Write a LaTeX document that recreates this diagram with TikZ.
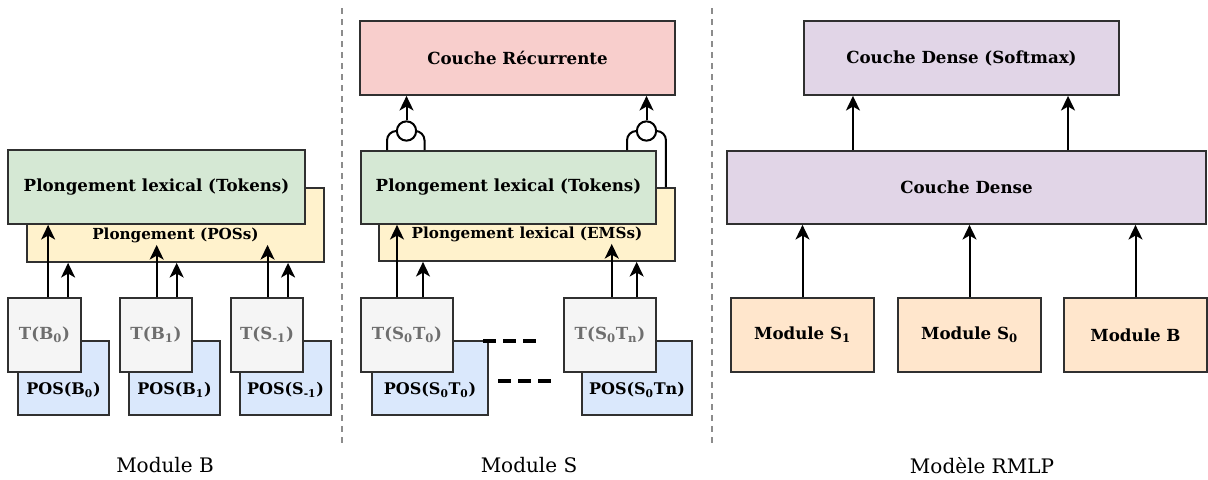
\documentclass[tikz,border=0pt]{standalone}
\usepackage{fontspec}
\setmainfont{DejaVu Serif}
\usepackage{tikz}
\usetikzlibrary{arrows.meta,calc}
\definecolor{tokgreen}{HTML}{D5E8D4}
\definecolor{embyellow}{HTML}{FFF2CC}
\definecolor{posblue}{HTML}{DAE8FC}
\definecolor{tokgray}{HTML}{F5F5F5}
\definecolor{tokfont}{HTML}{6E6E6E}
\definecolor{recred}{HTML}{F8CECC}
\definecolor{densepurple}{HTML}{E1D5E7}
\definecolor{modorange}{HTML}{FFE6CC}
\definecolor{boxline}{HTML}{303030}
\definecolor{sepgray}{HTML}{8C8C8C}
\tikzset{>/.tip={Stealth[length=11pt,width=10.5pt,inset=3pt]},
  wh/.style 2 args={minimum width=#1*0.75pt, minimum height=#2*0.75pt},
  blk/.style={draw=boxline, line width=1.3pt, inner sep=0pt, font=\bfseries\fontsize{12.5}{15}\selectfont},
  emblbl/.style 2 args={label={[name=#1, anchor=center, yshift=20.25pt, inner sep=1pt, font=\bfseries\fontsize{11.4}{14}\selectfont]south:#2}},
  poslbl/.style={label={[anchor=center, yshift=19.5pt, font=\bfseries\fontsize{12}{14}\selectfont]south:#1}},
  wire/.style={->, line width=1.5pt},
  leg/.style={line width=1.5pt, rounded corners=7pt},
  gate/.style={circle, draw, fill=white, line width=1.5pt, minimum size=14.5pt, inner sep=0pt},
  gap/.style={line width=2.4pt, dash pattern=on 9.75pt off 5.25pt},
  sep/.style={draw=sepgray, line width=1.1pt, dash pattern=on 4.5pt off 3.75pt},
  caption/.style={font=\fontsize{15}{18}\selectfont}}

\begin{document}
\begin{tikzpicture}[x=0.75pt,y=-0.75pt]
\useasboundingbox (0,0) rectangle (1208,479);

\node[blk, fill=embyellow, wh={297}{74}, emblbl={lblB}{Plongement (POSs)}] (embB) at (175.5,225) {};
\node[blk, fill=tokgreen, wh={297}{74}] (tokB) at (156.5,187) {Plongement lexical (Tokens)};

\node[blk, fill=posblue, wh={91}{74}, poslbl={POS(B\textsubscript{0})}] (PB0) at (63.5,378) {};
\node[blk, fill=tokgray, text=tokfont, wh={73}{74}] (TB0) at (44.5,335) {T(B\textsubscript{0})};
\node[blk, fill=posblue, wh={91}{74}, poslbl={POS(B\textsubscript{1})}] (PB1) at (174.5,378) {};
\node[blk, fill=tokgray, text=tokfont, wh={72}{74}] (TB1) at (156,335) {T(B\textsubscript{1})};
\node[blk, fill=posblue, wh={91}{74}, poslbl={POS(S\textsubscript{-1})}] (PS1) at (285.5,378) {};
\node[blk, fill=tokgray, text=tokfont, wh={72}{74}] (TS1) at (267,335) {T(S\textsubscript{-1})};

\draw[wire] ([xshift=2.7pt]TB0.north) -- ([xshift=2.7pt]TB0.north |- tokB.south);
\draw[wire] ([xshift=17.7pt]TB0.north) -- ([xshift=17.7pt]TB0.north |- embB.south);
\draw[wire] ([xshift=0.5pt]TB1.north) -- ([xshift=0.5pt]TB1.north |- lblB.south);
\draw[wire] ([xshift=15.5pt]TB1.north) -- ([xshift=15.5pt]TB1.north |- embB.south);
\draw[wire] ([xshift=0.4pt]TS1.north) -- ([xshift=0.4pt]TS1.north |- lblB.south);
\draw[wire] ([xshift=15.8pt]TS1.north) -- ([xshift=15.8pt]TS1.north |- embB.south);

\node[blk, fill=recred, wh={315}{74}] (recS) at (517.5,58) {Couche Récurrente};
\node[blk, fill=embyellow, wh={296}{73}, emblbl={lblS}{Plongement lexical (EMSs)}] (embS) at (527,224.5) {};
\node[blk, fill=tokgreen, wh={295}{73}] (tokS) at (508.5,187.5) {Plongement lexical (Tokens)};

\node[blk, fill=posblue, wh={116}{74}, poslbl={POS(S\textsubscript{0}T\textsubscript{0})}] (PS0) at (430,378) {};
\node[blk, fill=tokgray, text=tokfont, wh={92}{74}] (TS0) at (407,335) {T(S\textsubscript{0}T\textsubscript{0})};
\node[blk, fill=posblue, wh={110}{74}, poslbl={POS(S\textsubscript{0}Tn)}] (PSn) at (637,378) {};
\node[blk, fill=tokgray, text=tokfont, wh={92}{74}] (TSn) at (610,335) {T(S\textsubscript{0}T\textsubscript{n})};

\coordinate (gapA1) at (483,341);
\coordinate (gapA2) at (537,341);
\coordinate (gapB1) at (498,381);
\coordinate (gapB2) at (553,381);
\draw[gap] (gapA1) -- (gapA2);
\draw[gap] (gapB1) -- (gapB2);

\draw[wire] ([xshift=-7.5pt]TS0.north) -- ([xshift=-7.5pt]TS0.north |- tokS.south);
\draw[wire] ([xshift=12pt]TS0.north) -- ([xshift=12pt]TS0.north |- embS.south);
\draw[wire] ([xshift=1.3pt]TSn.north) -- ([xshift=1.3pt]TSn.north |- lblS.south);
\draw[wire] ([xshift=20pt]TSn.north) -- ([xshift=20pt]TSn.north |- embS.south);

\node[gate] (gate1) at (406.5,131) {};
\node[gate] (gate2) at (646.5,131) {};
\draw[leg] ([xshift=-14.6pt]gate1.center |- tokS.north) |- (gate1.west);
\draw[leg] ([xshift=13.5pt]gate1.center |- tokS.north) |- (gate1.east);
\draw[leg] ([xshift=-14.6pt]gate2.center |- tokS.north) |- (gate2.west);
\draw[leg] ([xshift=14.6pt]gate2.center |- embS.north) |- (gate2.east);
\draw[wire] (gate1.north) -- (gate1 |- recS.south);
\draw[wire] (gate2.north) -- (gate2 |- recS.south);

\node[blk, fill=densepurple, wh={315}{74}] (soft) at (961.5,58) {Couche Dense (Softmax)};
\node[blk, fill=densepurple, wh={479}{73}] (dense) at (966.5,187.5) {Couche Dense};
\node[blk, fill=modorange, wh={143}{74}] (MS1) at (802.5,335) {Module S\textsubscript{1}};
\node[blk, fill=modorange, wh={143}{74}] (MS0) at (969.5,335) {Module S\textsubscript{0}};
\node[blk, fill=modorange, wh={143}{74}] (MB) at (1135.5,335) {Module B};

\draw[wire] (MS1.north) -- (MS1 |- dense.south);
\draw[wire] (MS0.north) -- (MS0 |- dense.south);
\draw[wire] (MB.north) -- (MB |- dense.south);
\draw[wire] ([xshift=-81.4pt]soft.south |- dense.north) -- ([xshift=-81.4pt]soft.south);
\draw[wire] ([xshift=79.9pt]soft.south |- dense.north) -- ([xshift=79.9pt]soft.south);

\draw[sep] (342,8) -- (342,445);
\draw[sep] (712,8) -- (712,445);

\node[caption] (capB) at (165,465.5) {Module B};
\node[caption] (capS) at (529,465.5) {Module S};
\node[caption] (capR) at (982,465.5) {Modèle RMLP};
\end{tikzpicture}
\end{document}
